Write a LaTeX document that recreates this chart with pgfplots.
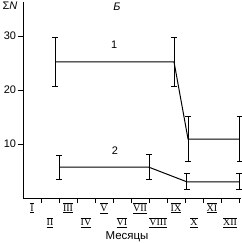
\documentclass[border=0pt]{standalone}
\usepackage{fontspec}
\setmainfont{Liberation Sans}
\newfontfamily\rmn{Liberation Serif}
\usepackage{pgfplots}
\pgfplotsset{compat=1.18}
\newcommand{\rn}[1]{$\overline{\underline{\hbox{\rmn #1}}}$}
\begin{document}
\begin{tikzpicture}[x=1bp,y=1bp]
\useasboundingbox (0,0) rectangle (242,243);
\begin{axis}[at={(23bp,45bp)}, anchor=south west,
  scale only axis, width=217.8bp, height=196bp,
  xmin=0, xmax=12.1, ymin=0, ymax=36.3,
  axis x line=bottom, axis y line=left, axis line style={-, line width=1bp},
  ytick={10,20,30}, xtick={1,...,12}, xticklabels={},
  tick align=outside, major tick length=5bp, tick style={line width=1bp, black},
  /pgf/number format/assume math mode=true,
  tick label style={font=\fontsize{11}{13}\selectfont},
  yticklabel style={xshift=1.5bp},
  clip=false]
\addplot[black, line width=1bp, mark=none,
  error bars/.cd, y dir=both, y explicit,
  error bar style={line width=1bp},
  error mark options={rotate=90, mark size=2.8bp, line width=1bp}]
  coordinates {(1.78,25.2) +- (0,4.5) (8.39,25.2) +- (0,4.6) (9.17,10.9) +- (0,4.2) (12.05,10.9) +- (0,4.2)};
\addplot[black, line width=1bp, mark=none,
  error bars/.cd, y dir=both, y explicit,
  error bar style={line width=1bp},
  error mark options={rotate=90, mark size=2.8bp, line width=1bp}]
  coordinates {(2.0,5.7) +- (0,2.2) (7.0,5.7) +- (0,2.3) (9.1,3.0) +- (0,1.5) (12.0,3.0) +- (0,1.5)};
\node[font=\fontsize{11}{13}\selectfont] at (axis cs:5.06,28.3) {1};
\node[font=\fontsize{11}{13}\selectfont] at (axis cs:5.1,8.7) {2};
\tikzset{rnl/.style={font=\fontsize{10}{12}\selectfont, inner sep=0pt}}
\node[rnl] at (axis cs:0.5,-1.85) {\rn{I}};
\node[rnl] at (axis cs:2.5,-1.85) {\rn{III}};
\node[rnl] at (axis cs:4.5,-1.85) {\rn{V}};
\node[rnl] at (axis cs:6.5,-1.85) {\rn{VII}};
\node[rnl] at (axis cs:8.5,-1.85) {\rn{IX}};
\node[rnl] at (axis cs:10.5,-1.85) {\rn{XI}};
\node[rnl] at (axis cs:1.5,-4.55) {\rn{II}};
\node[rnl] at (axis cs:3.5,-4.55) {\rn{IV}};
\node[rnl] at (axis cs:5.5,-4.55) {\rn{VI}};
\node[rnl] at (axis cs:7.5,-4.55) {\rn{VIII}};
\node[rnl] at (axis cs:9.5,-4.55) {\rn{X}};
\node[rnl] at (axis cs:11.5,-4.55) {\rn{XII}};
\end{axis}
\node[font=\fontsize{11.5}{13}\selectfont] at (127,6.5) {Месяцы};
\node[font=\fontsize{11}{13}\selectfont\itshape] at (117,236) {Б};
\node[font=\fontsize{11}{13}\selectfont] at (10,237) {Σ\textit{N}};
\end{tikzpicture}
\end{document}
